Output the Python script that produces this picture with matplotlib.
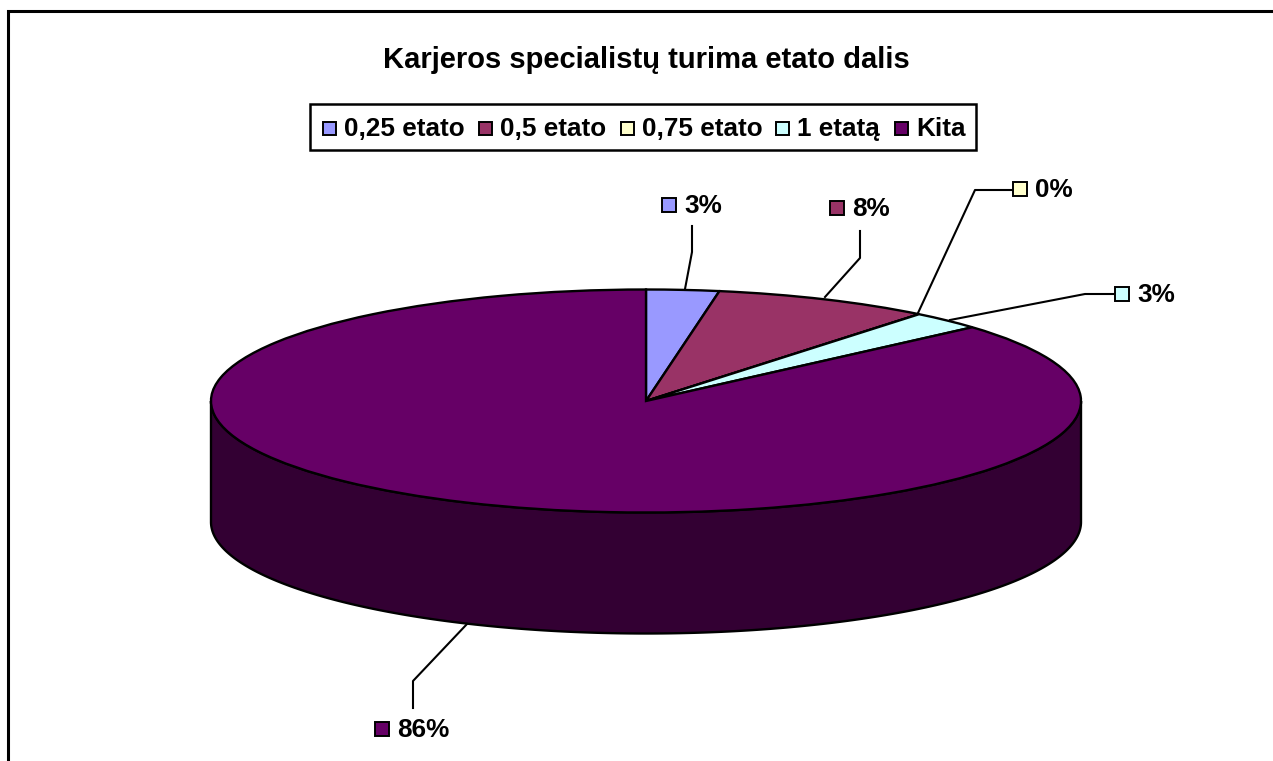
import numpy as np
import matplotlib
matplotlib.use("Agg")
import matplotlib.pyplot as plt
from matplotlib.patches import Rectangle

plt.rcParams['font.family'] = ['Liberation Sans', 'DejaVu Sans']

title = "Karjeros specialistų turima etato dalis"
categories = ["0,25 etato", "0,5 etato", "0,75 etato", "1 etatą", "Kita"]
values = [2.7, 8.1, 0.0, 2.7, 86.5]
pct_labels = ["3%", "8%", "0%", "3%", "86%"]
colors = ["#9999FF", "#993366", "#FFFFCC", "#CCFFFF", "#660066"]
wall_color = "#330033"

W, H = 1273, 761
CX, CY, RX, RY, DEPTH = 646, 401, 435, 111.5, 121

fig = plt.figure(figsize=(W / 100, H / 100), dpi=100, facecolor="white")

# Pixel-space axes for frame, legend, labels
top = fig.add_axes([0, 0, 1, 1], zorder=3)
top.set_xlim(0, W); top.set_ylim(H, 0); top.axis("off"); top.patch.set_alpha(0)

# Pie axes: unit circle maps onto the ellipse
ax = fig.add_axes([0, 0, 1, 1], zorder=1)
xlim = ((0 - CX) / RX, (W - CX) / RX)
ylim = ((CY - H) / RY, CY / RY)
th = np.linspace(np.pi, 2 * np.pi, 300)
d = DEPTH / RY
wx = np.concatenate([np.cos(th), np.cos(th[::-1])])
wy = np.concatenate([np.sin(th) - d, np.sin(th[::-1])])
ax.fill(wx, wy, facecolor=wall_color, edgecolor="black", linewidth=1.7, zorder=0.5)
ax.pie(values, colors=colors, startangle=90, counterclock=False,
       radius=1, wedgeprops=dict(edgecolor="black", linewidth=1.7))
ax.set_aspect("auto")
ax.set_xlim(*xlim); ax.set_ylim(*ylim)
ax.axis("off")

# Chart frame: the right and bottom edges fall outside the picture
top.plot([8, 8, W + 2], [H + 2, 11, 11], color="black", lw=2.2, solid_joinstyle="miter")

top.text(646, 60, title, ha="center", va="center", fontsize=21, fontweight="bold", color="black")

# Legend
top.add_patch(Rectangle((310, 104), 666, 46, facecolor="white", edgecolor="black", lw=1.8))
leg_marker_x = [329, 485, 627, 782, 901]
for mx, name, c in zip(leg_marker_x, categories, colors):
    top.add_patch(Rectangle((mx - 6.5, 121.5), 13, 13, facecolor=c, edgecolor="black", lw=1.4))
    top.text(mx + 15, 129, name, ha="left", va="center", fontsize=18.8, fontweight="bold", color="black")

# Data labels and leader lines
label_marker = [(669, 205), (837, 208), (1020, 189), (1122, 294), (382, 729)]
leaders = [
    [(685, 289), (692, 252), (692, 226)],
    [(825, 297), (860, 258), (860, 231)],
    [(918, 313), (975, 190), (1012, 190)],
    [(950, 320), (1085, 294), (1114, 294)],
    [(467, 624), (413, 681), (413, 708)],
]
for (mx, my), lab, c, path in zip(label_marker, pct_labels, colors, leaders):
    top.add_patch(Rectangle((mx - 7, my - 7), 14, 14, facecolor=c, edgecolor="black", lw=1.4))
    top.text(mx + 15, my + 1, lab, ha="left", va="center", fontsize=18.8, fontweight="bold", color="black")
    xs, ys = zip(*path)
    top.plot(xs, ys, color="black", lw=1.5)

fig.savefig("out.png", dpi=100, facecolor="white")
